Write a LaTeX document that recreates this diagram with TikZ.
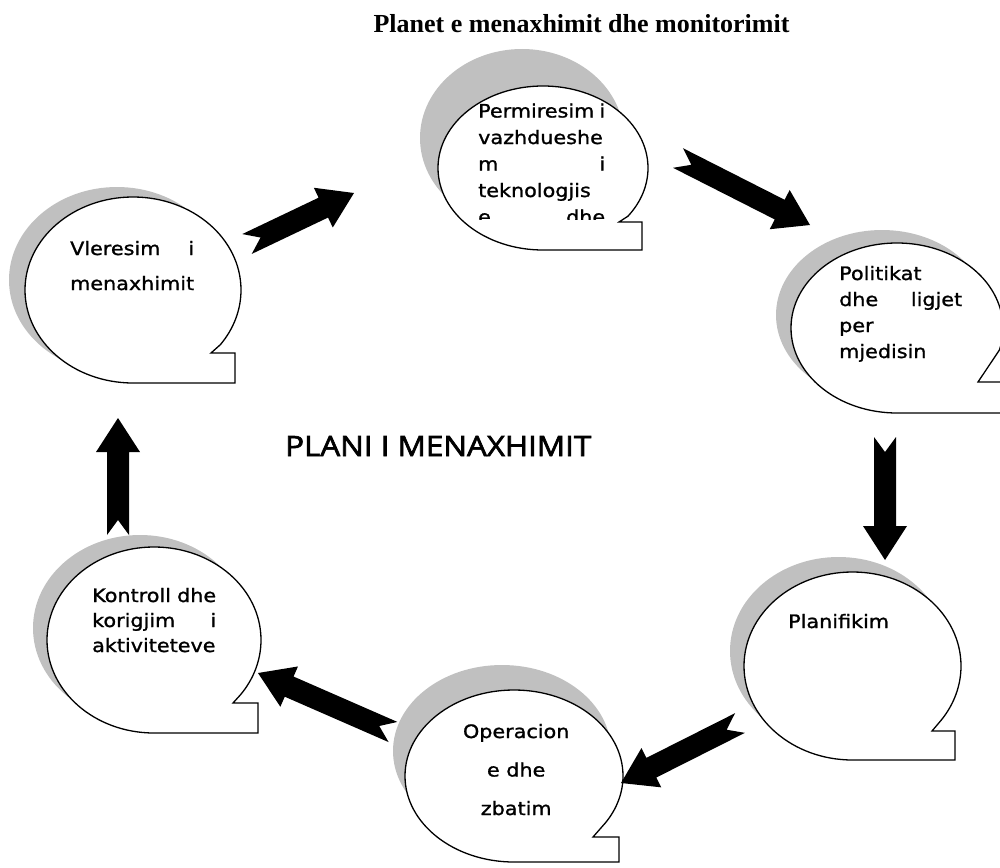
\documentclass[tikz,border=0pt]{standalone}
\usepackage{fontspec}
\setmainfont{DejaVu Sans}
\newfontfamily\bubfont{DejaVu Sans}[FakeStretch=1.12,FakeBold=1.2]
\newfontfamily\titlefont{Liberation Serif}
\newfontfamily\planfont{Open Sans}[FakeStretch=1.12,FakeBold=2.5]
\usetikzlibrary{calc}
\definecolor{shadowgray}{RGB}{192,192,192}
\def\aw{11pt}
\def\ahw{22pt}
\def\ah{34pt}
\def\an{15pt}
\tikzset{
  shade/.style={fill=shadowgray},
  bubble/.style={draw=black, fill=white, line width=1.3pt, line join=miter},
  btext/.style={anchor=base west, inner sep=0pt, font=\bubfont\fontsize{18.5}{22}\selectfont},
  blockarrow/.style={to path={
    ($(\tikztostart)!\aw!90:(\tikztotarget)$)
    -- ($(\tikztostart)!\an!(\tikztotarget)$)
    -- ($(\tikztostart)!\aw!-90:(\tikztotarget)$)
    -- ($($(\tikztotarget)!\ah!(\tikztostart)$)!\aw!-90:(\tikztotarget)$)
    -- ($($(\tikztotarget)!\ah!(\tikztostart)$)!\ahw!-90:(\tikztotarget)$)
    -- (\tikztotarget)
    -- ($($(\tikztotarget)!\ah!(\tikztostart)$)!\ahw!90:(\tikztotarget)$)
    -- ($($(\tikztotarget)!\ah!(\tikztostart)$)!\aw!90:(\tikztotarget)$)
    -- cycle}},
  arrowfill/.style={fill=black}
}
\begin{document}
\begin{tikzpicture}[x=1pt,y=-1pt]
\useasboundingbox (0,0) rectangle (1000,867);

% title
\node[anchor=base, inner sep=0pt, font=\titlefont\bfseries\fontsize{26}{30}\selectfont] (title) at (581.5,33) {Planet e menaxhimit dhe monitorimit};

% centre label
\node[anchor=base west, inner sep=0pt, font=\planfont\fontsize{28}{32}\selectfont] (plan) at (285,456) {PLANI I MENAXHIMIT};

% bubble 1
\fill[shade] (117,280) ellipse [x radius=108, y radius=93];
\filldraw[bubble] (235,383) -- (133,383) arc[start angle=90, end angle=396, x radius=108, y radius=93] -- (211,353) -- (235,353) -- cycle;
\node[btext] (t1) at (70,255) {\vtop{\baselineskip=35pt
  \hbox to 124pt{Vleresim\hfill i}
  \hbox to 124pt{menaxhimit\hfill}}};

% bubble 2
\fill[shade] (522,138) ellipse [x radius=102, y radius=89];
\filldraw[bubble] (642,250) -- (543,250) arc[start angle=90, end angle=396, x radius=105, y radius=82] -- (619,222) -- (642,222) -- cycle;
\begin{scope}
\clip (460,90) rectangle (640,219);
\node[btext] (t2) at (478,117.5) {\vtop{\baselineskip=26.5pt
  \hbox to 127pt{Permiresim\hfill i}
  \hbox to 127pt{vazhdueshe\hfill}
  \hbox to 127pt{m\hfill i}
  \hbox to 127pt{teknologjis\hfill}
  \hbox to 127pt{e\hfill dhe}}};
\end{scope}

% bubble 3
\fill[shade] (882,315) ellipse [x radius=106, y radius=85];
\filldraw[bubble] (1010,413) -- (897,413) arc[start angle=90, end angle=375, x radius=106, y radius=85] -- (978,382) -- (1010,382) -- cycle;
\node[btext] (t3) at (839,280) {\vtop{\baselineskip=26pt
  \hbox to 123pt{Politikat\hfill}
  \hbox to 123pt{dhe\hfill ligjet}
  \hbox to 123pt{per\hfill}
  \hbox to 123pt{mjedisin\hfill}}};

% bubble 4
\fill[shade] (838.5,651) ellipse [x radius=108.5, y radius=94];
\filldraw[bubble] (955,760) -- (852.5,760) arc[start angle=90, end angle=395, x radius=108.5, y radius=94] -- (932,731) -- (955,731) -- cycle;
\node[btext] (t4) at (788,628) {Planifikim};

% bubble 5
\fill[shade] (502,751) ellipse [x radius=109, y radius=86];
\filldraw[bubble] (619,862) -- (514,862) arc[start angle=90, end angle=393, x radius=109, y radius=86] -- (593,837) -- (619,837) -- cycle;
\node[btext] (t5) at (451,738) {\vtop{\baselineskip=38.5pt
  \hbox to 130pt{\hfil Operacion\hfil}
  \hbox to 130pt{\hfil e dhe\hfil}
  \hbox to 130pt{\hfil zbatim\hfil}}};

% bubble 6
\fill[shade] (140,628) ellipse [x radius=107, y radius=93];
\filldraw[bubble] (258,733) -- (154,733) arc[start angle=90, end angle=396, x radius=107, y radius=93] -- (233,703) -- (258,703) -- cycle;
\node[btext] (t6) at (92,602) {\vtop{\baselineskip=25pt
  \hbox to 124pt{Kontroll\hfill dhe}
  \hbox to 124pt{korigjim\hfill i}
  \hbox to 124pt{aktiviteteve\hfill}}};

% arrow end points
\coordinate (a1s) at (247,244);  \coordinate (a1e) at (354,193);
\coordinate (a2s) at (678,158);  \coordinate (a2e) at (810,225);
\coordinate (a3s) at (885,437);  \coordinate (a3e) at (885,560);
\coordinate (a4s) at (740,723);  \coordinate (a4e) at (621,783);
\coordinate (a5s) at (393,732);  \coordinate (a5e) at (258,673);
\coordinate (a6s) at (118,535);  \coordinate (a6e) at (118,418);

\fill[arrowfill] (a1s) to[blockarrow] (a1e);
\fill[arrowfill] (a2s) to[blockarrow] (a2e);
\fill[arrowfill] (a3s) to[blockarrow] (a3e);
\fill[arrowfill] (a4s) to[blockarrow] (a4e);
\fill[arrowfill] (a5s) to[blockarrow] (a5e);
\fill[arrowfill] (a6s) to[blockarrow] (a6e);
\end{tikzpicture}
\end{document}
